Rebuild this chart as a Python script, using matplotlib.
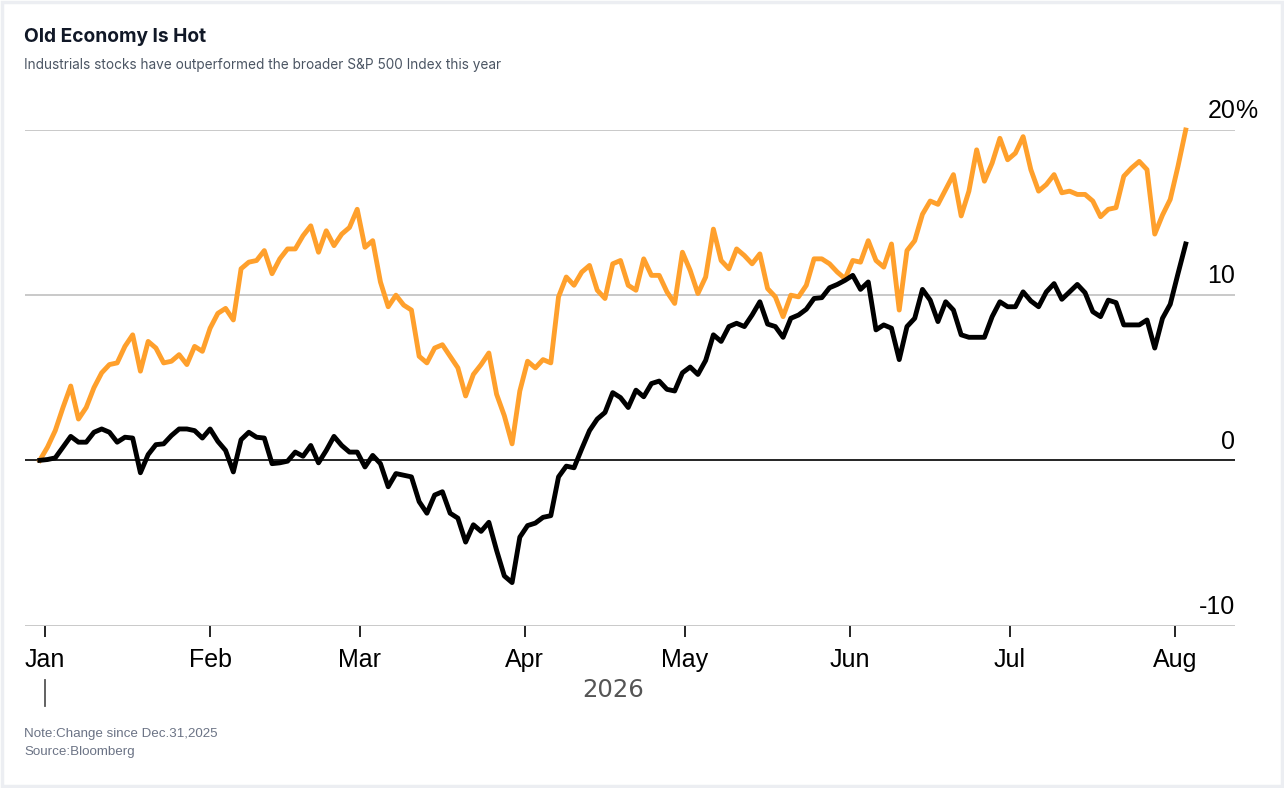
import pandas as pd
import matplotlib
matplotlib.use('Agg')
import matplotlib.pyplot as plt
import matplotlib.dates as mdates
import matplotlib.transforms as mtransforms
from matplotlib.patches import Rectangle
from matplotlib.lines import Line2D

# Change since Dec.31,2025 (%)
industrials = [
    0.0, 0.8, 1.8, 3.2, 4.5, 2.5, 3.2, 4.4, 5.3, 5.8,
    5.9, 6.9, 7.6, 5.4, 7.2, 6.8, 5.9, 6.0, 6.4, 5.8,
    6.9, 6.6, 8.0, 8.9, 9.2, 8.5, 11.6, 12.0, 12.1, 12.7,
    11.3, 12.2, 12.8, 12.8, 13.6, 14.2, 12.6, 13.9, 13.0, 13.7,
    14.1, 15.2, 12.9, 13.3, 10.8, 9.3, 10.0, 9.4, 9.1, 6.3,
    5.9, 6.8, 7.0, 6.3, 5.6, 3.9, 5.2, 5.8, 6.5, 4.0,
    2.7, 1.0, 4.2, 6.0, 5.6, 6.1, 5.9, 9.9, 11.1, 10.6,
    11.4, 11.8, 10.3, 9.8, 11.9, 12.1, 10.6, 10.3, 12.2, 11.2,
    11.2, 10.2, 9.5, 12.6, 11.5, 10.1, 11.1, 14.0, 12.1, 11.6,
    12.8, 12.4, 11.9, 12.5, 10.4, 9.9, 8.7, 10.0, 9.9, 10.6,
    12.2, 12.2, 11.9, 11.4, 11.0, 12.1, 12.0, 13.3, 12.1, 11.7,
    13.1, 9.1, 12.7, 13.3, 14.9, 15.7, 15.5, 16.4, 17.3, 14.8,
    16.3, 18.8, 16.9, 18.0, 19.5, 18.2, 18.6, 19.6, 17.6, 16.3,
    16.7, 17.3, 16.2, 16.3, 16.1, 16.1, 15.7, 14.75, 15.2, 15.3,
    17.2, 17.7, 18.1, 17.6, 13.7, 14.85, 15.8, 17.8, 20.0,
]
sp500 = [
    0.0, 0.05, 0.15, 0.8, 1.45, 1.1, 1.1, 1.7, 1.9, 1.7,
    1.1, 1.4, 1.35, -0.75, 0.35, 0.95, 1.0, 1.5, 1.9, 1.9,
    1.8, 1.35, 1.9, 1.15, 0.6, -0.7, 1.25, 1.7, 1.4, 1.35,
    -0.2, -0.15, -0.05, 0.5, 0.25, 0.9, -0.15, 0.6, 1.45, 0.9,
    0.5, 0.5, -0.4, 0.3, -0.2, -1.6, -0.8, -0.9, -1.0, -2.5,
    -3.2, -2.1, -1.9, -3.2, -3.5, -4.95, -3.9, -4.3, -3.75, -5.45,
    -7.0, -7.4, -4.65, -3.95, -3.8, -3.45, -3.35, -1.0, -0.35, -0.45,
    0.7, 1.8, 2.5, 2.9, 4.1, 3.8, 3.2, 4.25, 3.85, 4.65,
    4.8, 4.3, 4.2, 5.3, 5.65, 5.2, 6.05, 7.6, 7.2, 8.1,
    8.3, 8.1, 8.8, 9.6, 8.25, 8.1, 7.45, 8.6, 8.8, 9.15,
    9.8, 9.85, 10.45, 10.65, 10.9, 11.2, 10.35, 10.8, 7.9, 8.2,
    8.0, 6.1, 8.1, 8.6, 10.35, 9.7, 8.4, 9.6, 9.1, 7.6,
    7.45, 7.45, 7.45, 8.7, 9.6, 9.3, 9.3, 10.2, 9.65, 9.3,
    10.2, 10.7, 9.75, 10.2, 10.65, 10.15, 9.0, 8.7, 9.7, 9.55,
    8.2, 8.2, 8.2, 8.5, 6.8, 8.6, 9.45, 11.3, 13.1,
]
dates = pd.date_range('2025-12-31', '2026-08-03', periods=len(industrials))

y_ticks = [-10, 0, 10, 20]
y_labels = ['-10', '0', '10', '20']

ORANGE = '#ffa02c'
GRID = '#c9c9c9'

fig = plt.figure(figsize=(12.84, 7.88), dpi=100)
fig.patch.set_facecolor('white')
fig.patches.append(Rectangle((0.0015, 0.002), 0.997, 0.996, transform=fig.transFigure,
                             fill=False, edgecolor='#eceef2', linewidth=2.5))

ax = fig.add_axes([0.0192, 0.2062, 0.943, 0.6288])
for s in ax.spines.values():
    s.set_visible(False)

for v in y_ticks:
    if v == 0:
        ax.axhline(v, color='black', lw=1.2, zorder=2)
    else:
        ax.axhline(v, color=GRID, lw=1.4, zorder=1)

ax.plot(dates, industrials, color=ORANGE, lw=3.5, solid_joinstyle='round', zorder=3, clip_on=False)
ax.plot(dates, sp500, color='black', lw=3.5, solid_joinstyle='round', zorder=4, clip_on=False)

ax.set_ylim(-10, 20)
ax.set_xlim(pd.Timestamp('2025-12-28 04:00'), pd.Timestamp('2026-08-12 08:00'))
ax.set_yticks([])

ax.xaxis.set_major_locator(mdates.MonthLocator())
ax.xaxis.set_major_formatter(mdates.DateFormatter('%b'))
ax.tick_params(axis='x', direction='out', length=8, width=1.2, color='black',
               pad=8.5, labelsize=18, labelcolor='black')
for lbl in ax.get_xticklabels():
    lbl.set_family('Liberation Sans')

# y labels sit just above their gridlines on the right
trans = mtransforms.blended_transform_factory(ax.transAxes, ax.transData)
for v, lab in zip(y_ticks, y_labels):
    ax.annotate(lab, xy=(1.0, v), xycoords=trans, xytext=(0, 8.5), textcoords='offset points',
                ha='right', va='baseline', fontsize=18, family='Liberation Sans', color='black')
ax.annotate('%', xy=(1.0, y_ticks[-1]), xycoords=trans, xytext=(0, 8.5), textcoords='offset points',
            ha='left', va='baseline', fontsize=18, family='Liberation Sans', color='black')

# year label and marker
xtrans = mtransforms.blended_transform_factory(ax.transData, ax.transAxes)
mid = dates[0] + (dates[-1] - dates[0]) / 2
ax.text(mid, -0.131, '2026', transform=xtrans, ha='center', va='center',
        fontsize=17.5, family='DejaVu Sans', color='#555555')
jan1 = mdates.date2num(pd.Timestamp('2026-01-01'))
ax.add_line(Line2D([jan1, jan1], [-0.110, -0.162], transform=xtrans, color='#555555',
                   lw=1.3, clip_on=False))

fig.text(0.0187, 0.953, 'Old Economy Is Hot', fontsize=13.8, fontweight='bold',
         family='Inter', color='#111827', va='center')
fig.text(0.0187, 0.917, 'Industrials stocks have outperformed the broader S&P 500 Index this year',
         fontsize=9.8, family='Inter', color='#4b5563', va='center')
fig.text(0.0187, 0.0685, 'Note:Change since Dec.31,2025', fontsize=9.6,
         family='Liberation Sans', color='#6b7385', va='center')
fig.text(0.0187, 0.0457, 'Source:Bloomberg', fontsize=9.6,
         family='Liberation Sans', color='#6b7385', va='center')

fig.savefig('out.png', dpi=100, facecolor='white')
